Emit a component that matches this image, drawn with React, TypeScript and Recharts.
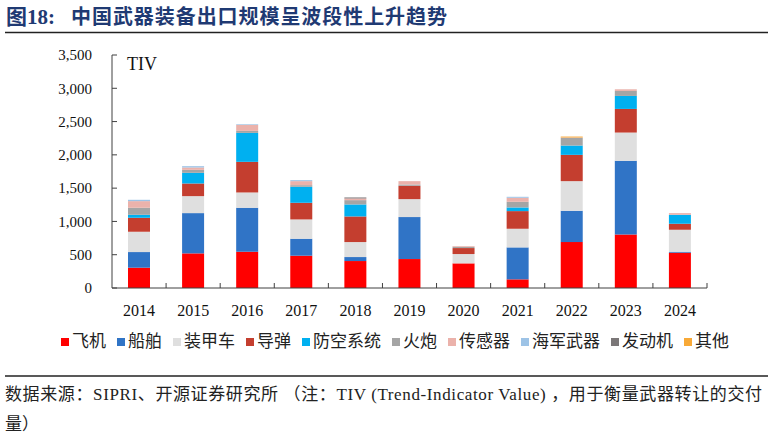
import React from 'react';
import { BarChart, Bar, XAxis, YAxis } from 'recharts';

// Arms export volume by category (TIV, millions), 2014-2024
const years = ['2014', '2015', '2016', '2017', '2018', '2019', '2020', '2021', '2022', '2023', '2024'];

const aircraft = [305, 520, 545, 485, 405, 435, 370, 130, 690, 805, 530];
const ships = [235, 605, 660, 255, 60, 630, 0, 480, 470, 1105, 15];
const armouredVehicles = [305, 255, 230, 290, 225, 270, 140, 280, 445, 425, 330];
const missiles = [210, 190, 460, 250, 385, 200, 90, 265, 395, 355, 90];
const airDefence = [45, 160, 435, 240, 180, 0, 0, 55, 140, 195, 135];
const artillery = [105, 45, 30, 25, 65, 20, 20, 85, 115, 75, 0];
const sensors = [100, 35, 90, 60, 25, 50, 10, 60, 5, 25, 25];
const navalWeapons = [20, 20, 10, 15, 0, 0, 0, 15, 0, 0, 0];
const engines = [0, 0, 0, 0, 15, 0, 0, 0, 0, 0, 0];
const others = [0, 0, 0, 0, 0, 0, 0, 0, 15, 0, 0];

const yTicks = [0, 500, 1000, 1500, 2000, 2500, 3000, 3500];

const seriesList = [
  { key: 'aircraft', name: '飞机', color: '#FF0000', values: aircraft },
  { key: 'ships', name: '船舶', color: '#3074C6', values: ships },
  { key: 'armoured', name: '装甲车', color: '#DFDFDF', values: armouredVehicles },
  { key: 'missiles', name: '导弹', color: '#C43E2F', values: missiles },
  { key: 'airDefence', name: '防空系统', color: '#00B0F0', values: airDefence },
  { key: 'artillery', name: '火炮', color: '#A5A5A5', values: artillery },
  { key: 'sensors', name: '传感器', color: '#EBB2AB', values: sensors },
  { key: 'naval', name: '海军武器', color: '#9DC3E6', values: navalWeapons },
  { key: 'engines', name: '发动机', color: '#7B7778', values: engines },
  { key: 'others', name: '其他', color: '#F8A937', values: others },
];

const data = years.map((year, i) => {
  const row: Record<string, string | number> = { year };
  seriesList.forEach((s) => {
    row[s.key] = s.values[i];
  });
  return row;
});

const SERIF = "'Liberation Serif', 'Times New Roman', 'Noto Sans CJK SC', serif";
const CJK = "'Liberation Serif', 'Noto Sans CJK SC', serif";
const AXIS = '#404040';

// Category tick: label at band centre, short inward tick mark at the band's right edge
const XTick = (props: any) => {
  const { x, y, payload } = props;
  const half = typeof payload?.offset === 'number' ? payload.offset : 27;
  const tx = x + half;
  return (
    <g>
      <line x1={tx} x2={tx} y1={y} y2={y - 5} stroke={AXIS} strokeWidth={1} />
      <text
        x={x}
        y={y + 22}
        dy="0.35em"
        textAnchor="middle"
        fontFamily={SERIF}
        fontSize={16}
        fill="#111"
      >
        {payload.value}
      </text>
    </g>
  );
};

const LegendRow = () => (
  <div
    style={{
      position: 'absolute',
      left: 61,
      top: 331,
      display: 'flex',
      alignItems: 'center',
      gap: 11,
      fontFamily: CJK,
      fontSize: 17,
      lineHeight: '22px',
      color: '#222',
      whiteSpace: 'nowrap',
    }}
  >
    {seriesList.map((s) => (
      <div key={s.key} style={{ display: 'flex', alignItems: 'center' }}>
        <span
          style={{ display: 'inline-block', width: 8, height: 8, background: s.color, marginRight: 3 }}
        />
        <span>{s.name}</span>
      </div>
    ))}
  </div>
);

export default function App() {
  return (
    <div
      style={{
        position: 'absolute',
        left: 0,
        top: 0,
        width: 774,
        height: 437,
        background: '#fff',
        overflow: 'hidden',
      }}
    >
      <BarChart
        width={774}
        height={437}
        data={data}
        margin={{ top: 55, right: 67, left: 0, bottom: 119 }}
        barSize={22}
      >
        <XAxis
          dataKey="year"
          height={30}
          tickLine={false}
          tickSize={0}
          tickMargin={0}
          axisLine={{ stroke: AXIS, strokeWidth: 1 }}
          tick={<XTick />}
          interval={0}
        />
        <YAxis
          width={112}
          domain={[0, 3500]}
          ticks={yTicks}
          interval={0}
          tickSize={-5}
          tickMargin={25}
          tickLine={{ stroke: AXIS, strokeWidth: 1 }}
          axisLine={{ stroke: AXIS, strokeWidth: 1 }}
          tickFormatter={(v: number) => v.toLocaleString('en-US')}
          tick={{ fontFamily: SERIF, fontSize: 15, fill: '#111' }}
          allowDataOverflow
        />
        {seriesList.map((s) => (
          <Bar
            key={s.key}
            dataKey={s.key}
            name={s.name}
            stackId="total"
            fill={s.color}
            isAnimationActive={false}
          />
        ))}
      </BarChart>

      <svg
        width={774}
        height={437}
        style={{ position: 'absolute', left: 0, top: 0, pointerEvents: 'none' }}
      >
        <text x={6} y={24} fontFamily={CJK} fontWeight="bold" fontSize={21} fill="#1F3A73">
          图18:
        </text>
        <text
          x={71}
          y={24}
          fontFamily={CJK}
          fontWeight="bold"
          fontSize={20}
          fill="#1F3A73"
          textLength={376}
          lengthAdjust="spacing"
        >
          中国武器装备出口规模呈波段性上升趋势
        </text>
        <line x1={5} x2={768} y1={32.5} y2={32.5} stroke="#222" strokeWidth={1.5} />

        <text x={127} y={70} fontFamily={SERIF} fontSize={18} fill="#111">
          TIV
        </text>

        <line x1={5} x2={768} y1={376} y2={376} stroke="#222" strokeWidth={1.5} />
        <text
          x={5}
          y={400}
          fontFamily={CJK}
          fontSize={17}
          fill="#222"
          textLength={757}
          lengthAdjust="spacing"
        >
          数据来源：SIPRI、开源证券研究所 （注：TIV (Trend-Indicator Value) ，用于衡量武器转让的交付
        </text>
        <text x={5} y={430} fontFamily={CJK} fontSize={17} fill="#222">
          量）
        </text>
      </svg>

      <LegendRow />
    </div>
  );
}
